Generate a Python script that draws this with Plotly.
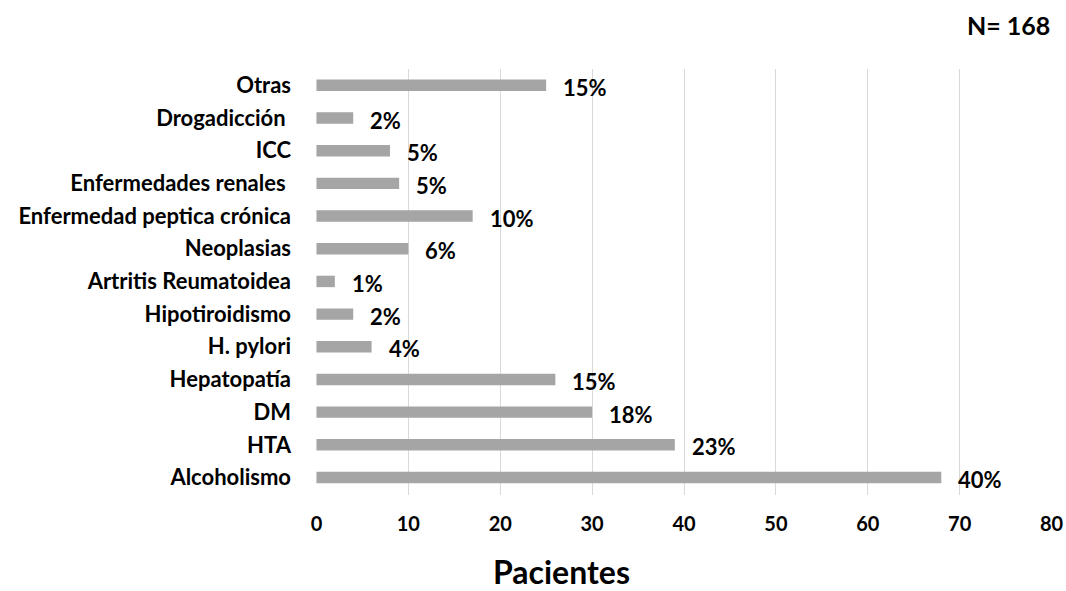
import plotly.graph_objects as go

# Comorbidities, listed bottom to top as drawn
categorias = [
    "Alcoholismo", "HTA", "DM", "Hepatopatía", "H. pylori", "Hipotiroidismo",
    "Artritis Reumatoidea", "Neoplasias", "Enfermedad peptica crónica",
    "Enfermedades renales ", "ICC", "Drogadicción ", "Otras",
]
pacientes = [68, 39, 30, 26, 6, 4, 2, 10, 17, 9, 8, 4, 25]
porcentajes = [40, 23, 18, 15, 4, 2, 1, 6, 10, 5, 5, 2, 15]
total_n = 168
ticks_x = [0, 10, 20, 30, 40, 50, 60, 70, 80]

FONT = "Lato"
BLACK = "#000000"

fig = go.Figure()
fig.add_trace(go.Bar(
    y=categorias,
    x=pacientes,
    orientation="h",
    marker=dict(color="#a5a5a5", line=dict(width=0)),
    width=0.35,
    hoverinfo="skip",
))

# percentage labels just past the end of each bar
for cat, val, pct in zip(categorias, pacientes, porcentajes):
    fig.add_annotation(
        x=val, y=cat, xref="x", yref="y",
        text=f"<b>{pct}%</b>", showarrow=False,
        xanchor="left", yanchor="middle", xshift=15, yshift=-2,
        font=dict(family=FONT, size=22, color=BLACK),
    )

# sample size in the top-right corner
fig.add_annotation(
    x=1.0, y=1.0, xref="paper", yref="paper",
    text=f"<b>N= {total_n}</b>", showarrow=False,
    xanchor="right", yanchor="middle", xshift=0, yshift=44,
    font=dict(family=FONT, size=25, color=BLACK),
)

# axis title
fig.add_annotation(
    x=0.333, y=0.0, xref="paper", yref="paper",
    text="<b>Pacientes</b>", showarrow=False,
    xanchor="center", yanchor="top", yshift=-55,
    font=dict(family=FONT, size=32, color=BLACK),
)

fig.update_layout(
    width=1066, height=591,
    margin=dict(l=316, r=14, t=69, b=96),
    paper_bgcolor="white", plot_bgcolor="white",
    showlegend=False,
    font=dict(family=FONT, color=BLACK),
    xaxis=dict(
        range=[-0.05, 80.05],
        tickmode="array", tickvals=ticks_x,
        ticktext=[f"<b>{t}</b>" for t in ticks_x],
        showgrid=True, gridcolor="#d9d9d9", gridwidth=1,
        zeroline=False, showline=False, ticks="",
        tickfont=dict(family=FONT, size=20, color=BLACK),
        ticklabelstandoff=15,
        automargin=False,
        fixedrange=True,
    ),
    yaxis=dict(
        showgrid=False, zeroline=False, showline=False, ticks="",
        tickfont=dict(family=FONT, size=22, color=BLACK),
        tickprefix="<b>", ticksuffix="</b>",
        ticklabelstandoff=24,
        categoryorder="array", categoryarray=categorias,
        automargin=False,
        fixedrange=True,
    ),
)

fig.write_html("out.html")
